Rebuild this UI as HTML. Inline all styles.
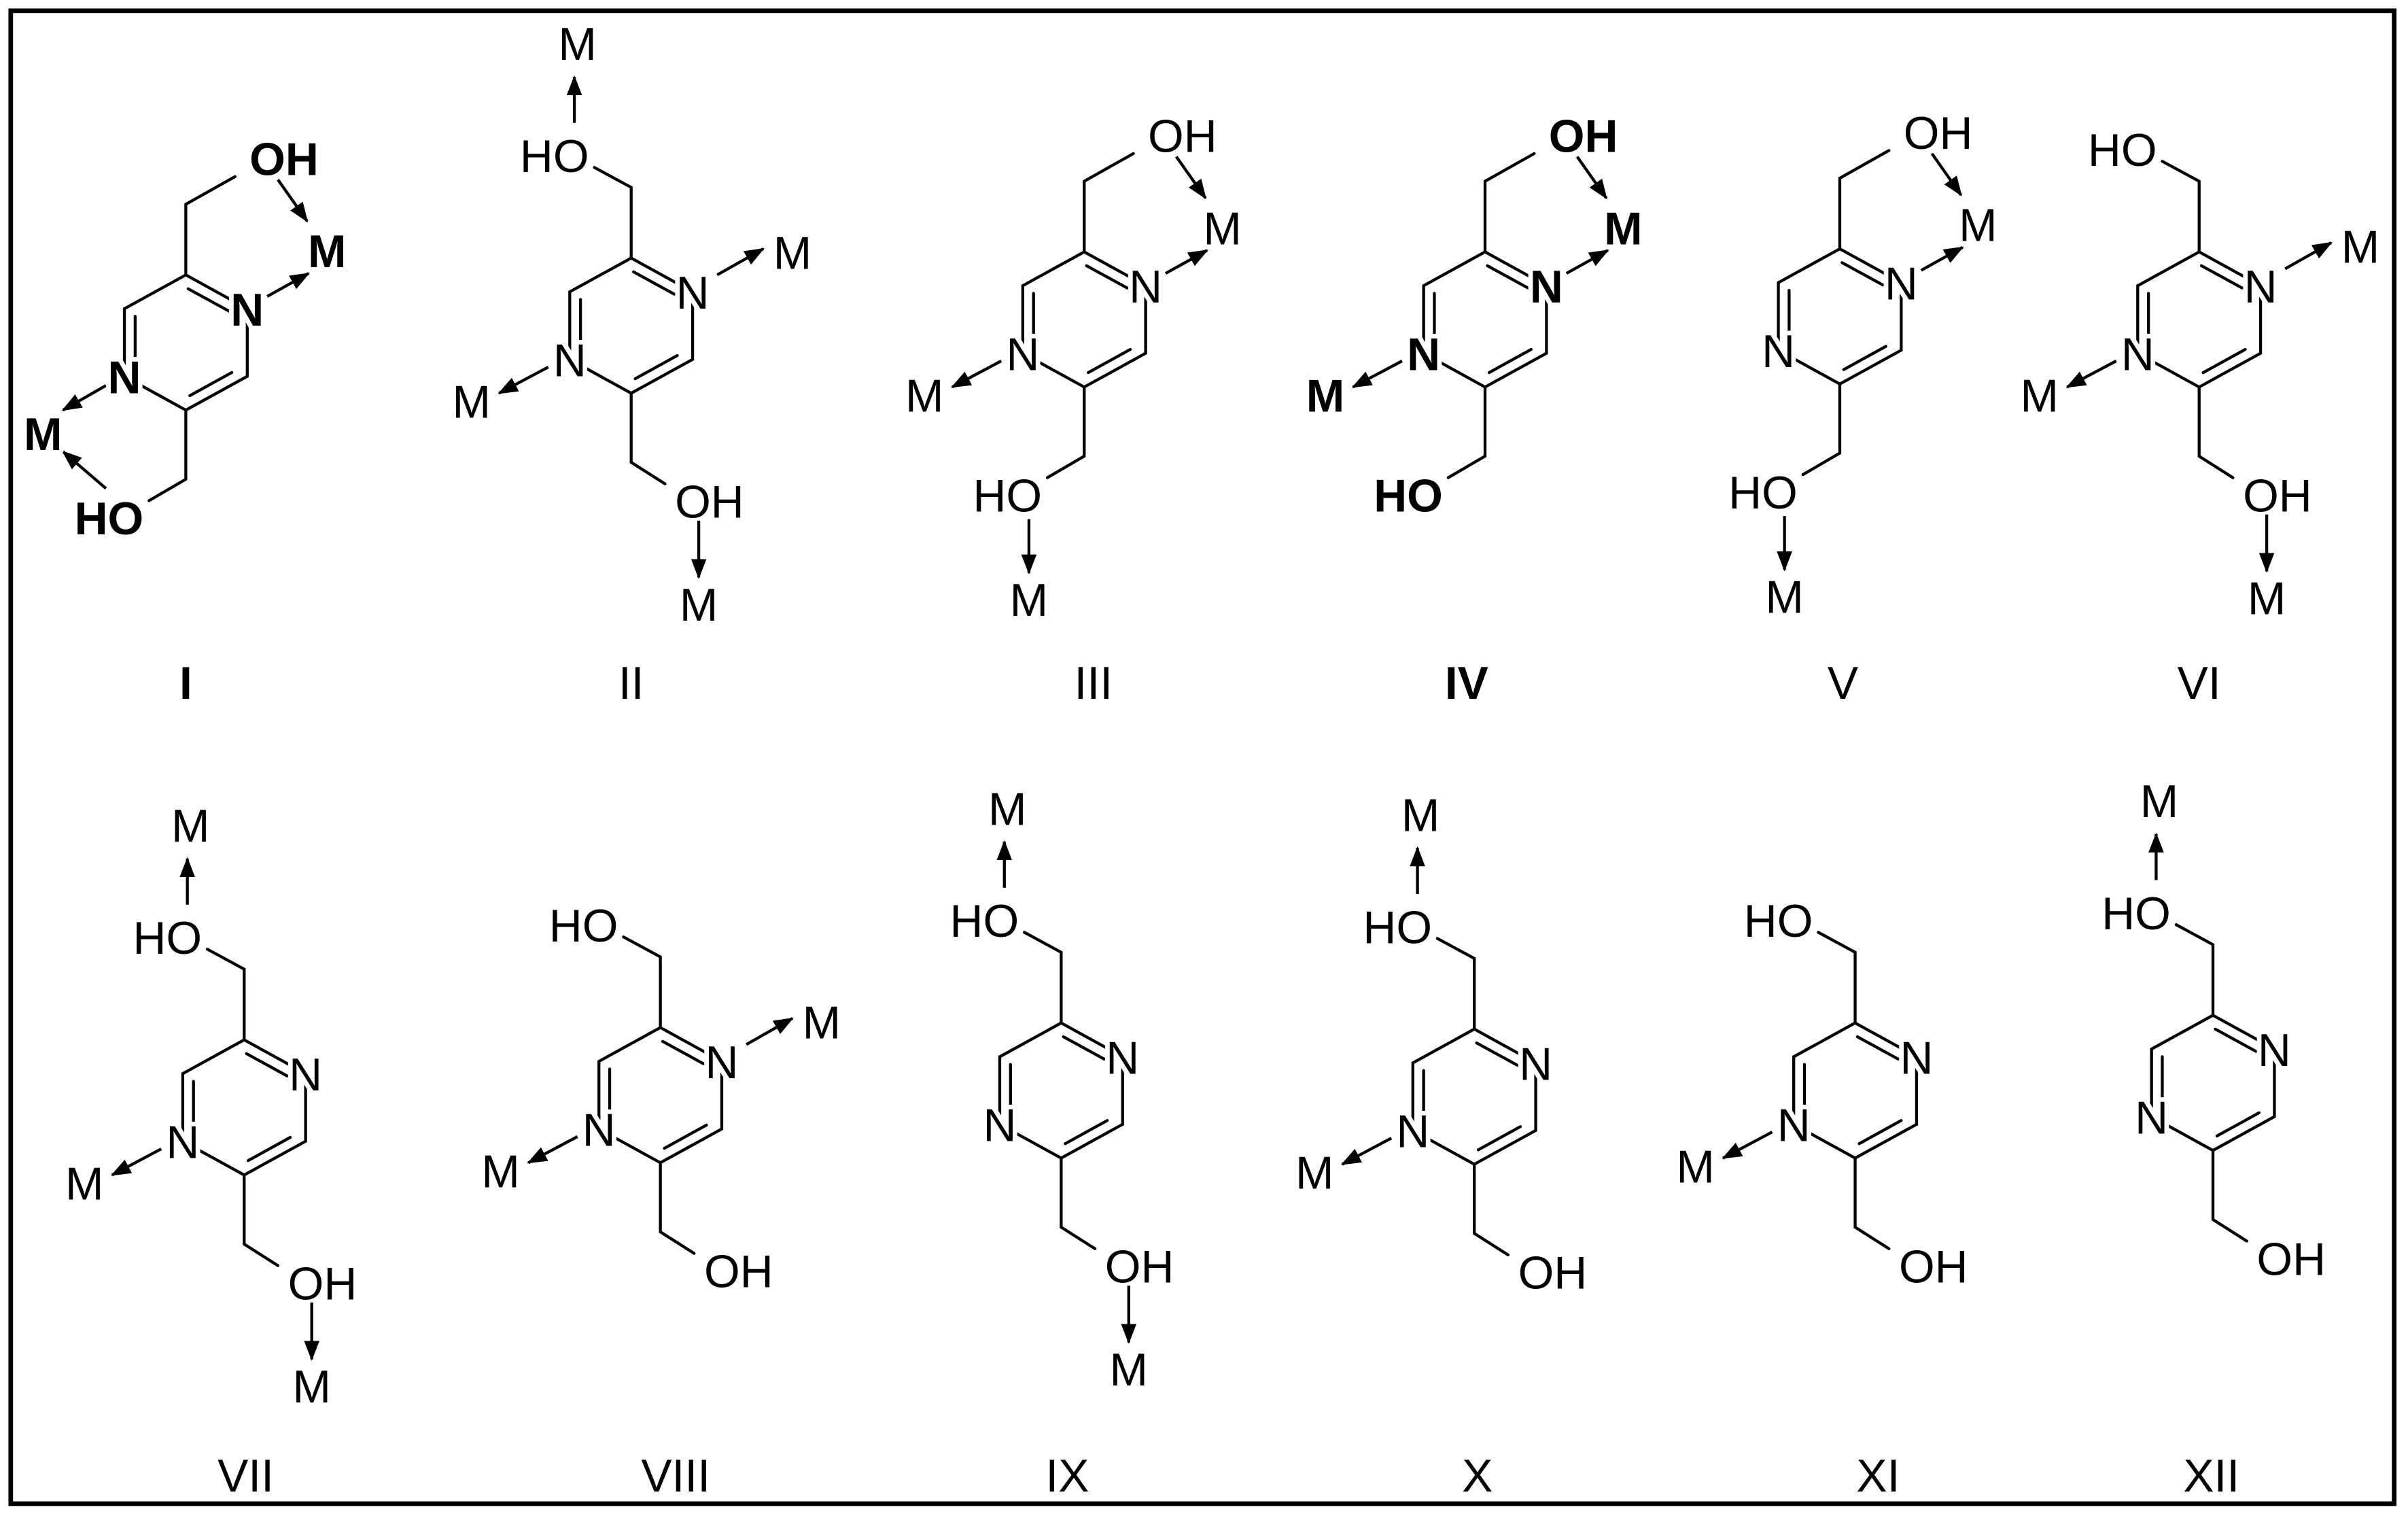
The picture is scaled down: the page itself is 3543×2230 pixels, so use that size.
<!DOCTYPE html>
<html><head><meta charset="utf-8"><style>
html,body{margin:0;padding:0;background:#fff}
svg{display:block}
text{font-family:"Liberation Sans",Arial,sans-serif;font-size:30px;fill:#000;stroke:#fff;stroke-width:6px;paint-order:stroke;stroke-linejoin:round;text-anchor:middle}
.b text{font-weight:bold}
.l{stroke:#000;stroke-width:1.9;fill:none;stroke-linecap:round}
.a{stroke:#000;stroke-width:1.9;fill:none;marker-end:url(#ah)}
</style></head><body>
<svg width="3543" height="2230" viewBox="0 0 1568 987" preserveAspectRatio="none" xmlns="http://www.w3.org/2000/svg">
<defs>
<marker id="ah" markerUnits="userSpaceOnUse" markerWidth="14" markerHeight="10" refX="12" refY="5" orient="auto"><path d="M0,0 L13,5 L0,10 Z" fill="#000"/></marker>
<g id="ring">
<path class="l" d="M0,-44 L40,-22 L40,22 L0,44 L-40,22 L-40,-22 Z"/>
<line class="l" x1="1.5" y1="-35" x2="28" y2="-20.5"/>
<line class="l" x1="-33" y1="-17" x2="-33" y2="16"/>
<line class="l" x1="2.6" y1="34.6" x2="30" y2="19.5"/>
</g>
<path id="tR" class="l" d="M0,-44 L0,-90 L32,-108"/>
<path id="tL" class="l" d="M0,-44 L0,-90 L-24,-103"/>
<path id="bR" class="l" d="M0,44 L0,89 L22,103"/>
<path id="bL" class="l" d="M0,44 L0,89 L-24,103"/>
</defs>
<rect x="7" y="7" width="1552" height="972" fill="none" stroke="#000" stroke-width="3"/>

<!-- I -->
<g class="b" transform="translate(121,223)">
<use href="#ring"/><use href="#tR"/><use href="#bL"/>
<line class="a" x1="60" y1="-106" x2="79" y2="-79"/>
<line class="a" x1="53" y1="-30" x2="80" y2="-45"/>
<line class="a" x1="-52" y1="28" x2="-80" y2="44"/>
<line class="a" x1="-52" y1="95" x2="-80" y2="71"/>
<text x="40" y="-11">N</text><text x="-40" y="33">N</text>
<text x="64" y="-109">OH</text><text x="92" y="-49">M</text>
<text x="-50" y="125">HO</text><text x="-93" y="70">M</text>
</g>
<!-- II -->
<g transform="translate(411,212)">
<use href="#ring"/><use href="#tL"/><use href="#bR"/>
<text x="40" y="-11">N</text><text x="-40" y="33">N</text>
<text x="-50" y="-100">HO</text><line class="a" x1="-37" y1="-132" x2="-37" y2="-162"/><text x="-35" y="-173">M</text>
<line class="a" x1="56" y1="-33" x2="86" y2="-50"/><text x="105" y="-37">M</text>
<line class="a" x1="-54" y1="27" x2="-86" y2="44"/><text x="-104" y="60">M</text>
<text x="51" y="125">OH</text><line class="a" x1="44" y1="127" x2="44" y2="164"/><text x="44" y="192">M</text>
</g>
<!-- III -->
<g transform="translate(706,208)">
<use href="#ring"/><use href="#tR"/><use href="#bL"/>
<text x="40" y="-11">N</text><text x="-40" y="33">N</text>
<text x="64" y="-109">OH</text><line class="a" x1="60" y1="-106" x2="79" y2="-79"/>
<line class="a" x1="53" y1="-30" x2="80" y2="-45"/><text x="90" y="-49">M</text>
<line class="a" x1="-54" y1="27" x2="-86" y2="44"/><text x="-104" y="60">M</text>
<text x="-50" y="125">HO</text><line class="a" x1="-36" y1="130" x2="-36" y2="165"/><text x="-36" y="193">M</text>
</g>
<!-- IV -->
<g class="b" transform="translate(967,208)">
<use href="#ring"/><use href="#tR"/><use href="#bL"/>
<text x="40" y="-11">N</text><text x="-40" y="33">N</text>
<text x="64" y="-109">OH</text><line class="a" x1="60" y1="-106" x2="79" y2="-79"/>
<line class="a" x1="53" y1="-30" x2="80" y2="-45"/><text x="90" y="-49">M</text>
<line class="a" x1="-54" y1="27" x2="-86" y2="44"/><text x="-104" y="60">M</text>
<text x="-50" y="125">HO</text>
</g>
<!-- V -->
<g transform="translate(1198,206)">
<use href="#ring"/><use href="#tR"/><use href="#bL"/>
<text x="40" y="-11">N</text><text x="-40" y="33">N</text>
<text x="64" y="-109">OH</text><line class="a" x1="60" y1="-106" x2="79" y2="-79"/>
<line class="a" x1="53" y1="-30" x2="80" y2="-45"/><text x="90" y="-49">M</text>
<text x="-50" y="125">HO</text><line class="a" x1="-36" y1="130" x2="-36" y2="165"/><text x="-36" y="193">M</text>
</g>
<!-- VI -->
<g transform="translate(1432,208)">
<use href="#ring"/><use href="#tL"/><use href="#bR"/>
<text x="40" y="-11">N</text><text x="-40" y="33">N</text>
<text x="-50" y="-100">HO</text>
<line class="a" x1="56" y1="-33" x2="86" y2="-50"/><text x="105" y="-37">M</text>
<line class="a" x1="-54" y1="27" x2="-86" y2="44"/><text x="-104" y="60">M</text>
<text x="51" y="125">OH</text><line class="a" x1="44" y1="127" x2="44" y2="164"/><text x="44" y="192">M</text>
</g>
<!-- VII -->
<g transform="translate(159,721)">
<use href="#ring"/><use href="#tL"/><use href="#bR"/>
<text x="40" y="-11">N</text><text x="-40" y="33">N</text>
<text x="-50" y="-100">HO</text><line class="a" x1="-37" y1="-132" x2="-37" y2="-162"/><text x="-35" y="-173">M</text>
<line class="a" x1="-54" y1="27" x2="-86" y2="44"/><text x="-104" y="60">M</text>
<text x="51" y="125">OH</text><line class="a" x1="44" y1="127" x2="44" y2="164"/><text x="44" y="192">M</text>
</g>
<!-- VIII -->
<g transform="translate(430,713)">
<use href="#ring"/><use href="#tL"/><use href="#bR"/>
<text x="40" y="-11">N</text><text x="-40" y="33">N</text>
<text x="-50" y="-100">HO</text>
<line class="a" x1="56" y1="-33" x2="86" y2="-50"/><text x="105" y="-37">M</text>
<line class="a" x1="-54" y1="27" x2="-86" y2="44"/><text x="-104" y="60">M</text>
<text x="51" y="125">OH</text>
</g>
<!-- IX -->
<g transform="translate(691,710)">
<use href="#ring"/><use href="#tL"/><use href="#bR"/>
<text x="40" y="-11">N</text><text x="-40" y="33">N</text>
<text x="-50" y="-100">HO</text><line class="a" x1="-37" y1="-132" x2="-37" y2="-162"/><text x="-35" y="-173">M</text>
<text x="51" y="125">OH</text><line class="a" x1="44" y1="127" x2="44" y2="164"/><text x="44" y="192">M</text>
</g>
<!-- X -->
<g transform="translate(960,714)">
<use href="#ring"/><use href="#tL"/><use href="#bR"/>
<text x="40" y="-11">N</text><text x="-40" y="33">N</text>
<text x="-50" y="-100">HO</text><line class="a" x1="-37" y1="-132" x2="-37" y2="-162"/><text x="-35" y="-173">M</text>
<line class="a" x1="-54" y1="27" x2="-86" y2="44"/><text x="-104" y="60">M</text>
<text x="51" y="125">OH</text>
</g>
<!-- XI -->
<g transform="translate(1208,710)">
<use href="#ring"/><use href="#tL"/><use href="#bR"/>
<text x="40" y="-11">N</text><text x="-40" y="33">N</text>
<text x="-50" y="-100">HO</text>
<line class="a" x1="-54" y1="27" x2="-86" y2="44"/><text x="-104" y="60">M</text>
<text x="51" y="125">OH</text>
</g>
<!-- XII -->
<g transform="translate(1441,705)">
<use href="#ring"/><use href="#tL"/><use href="#bR"/>
<text x="40" y="-11">N</text><text x="-40" y="33">N</text>
<text x="-50" y="-100">HO</text><line class="a" x1="-37" y1="-132" x2="-37" y2="-162"/><text x="-35" y="-173">M</text>
<text x="51" y="125">OH</text>
</g>

<!-- labels -->
<g class="b"><text x="121" y="455">I</text><text x="955" y="455">IV</text></g>
<text x="411" y="455">II</text>
<text x="712" y="455">III</text>
<text x="1200" y="455">V</text>
<text x="1432" y="455">VI</text>
<text x="160" y="971">VII</text>
<text x="440" y="971">VIII</text>
<text x="695" y="971">IX</text>
<text x="962" y="971">X</text>
<text x="1223" y="971">XI</text>
<text x="1440" y="971">XII</text>
</svg>
</body></html>
